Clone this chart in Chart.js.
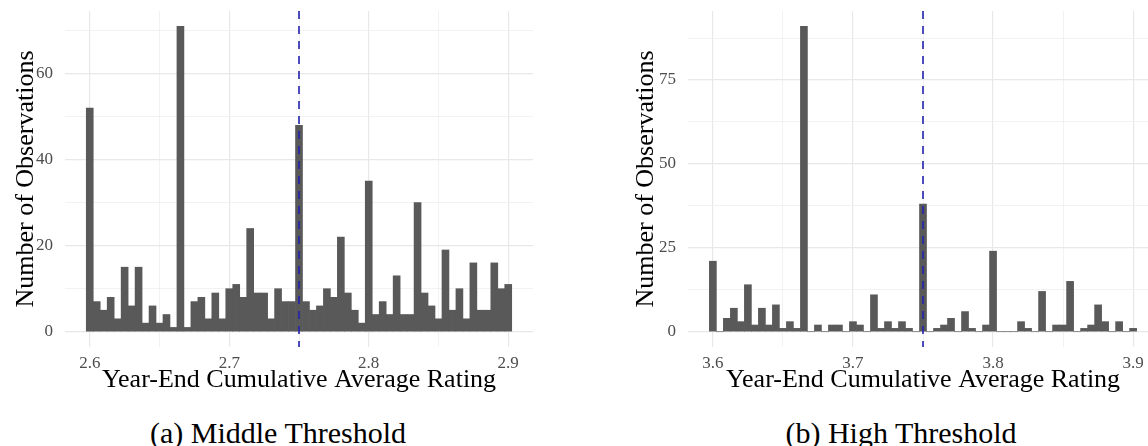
<!DOCTYPE html>
<html lang="en">
<head>
<meta charset="UTF-8">
<title>Year-End Cumulative Average Rating</title>
<script src="https://cdn.jsdelivr.net/npm/chart.js"></script>
<style>
  html, body { margin: 0; padding: 0; background: #fff; overflow: hidden; }
  body { width: 1148px; height: 446px; position: relative; font-family: "Liberation Serif", serif; }
  .panel { position: absolute; top: 0; }
  #wrapA { left: 0; width: 574px; height: 400px; }
  #wrapB { left: 620px; width: 528px; height: 400px; overflow: hidden; }
  .caption { position: absolute; top: 418px; font-size: 30px; line-height: 30px; color: #000; white-space: nowrap; transform: translateX(-50%); }
</style>
</head>
<body>
  <div class="panel" id="wrapA"><canvas id="chartA" width="574" height="396"></canvas></div>
  <div class="panel" id="wrapB"><canvas id="chartB" width="538" height="396"></canvas></div>
  <div class="caption" style="left: 278px;">(a) Middle Threshold</div>
  <div class="caption" style="left: 901px;">(b) High Threshold</div>

<script>
// (a) middle threshold: bin centres and counts
const binsA = [2.600, 2.605, 2.610, 2.615, 2.620, 2.625, 2.630, 2.635, 2.640, 2.645,
               2.650, 2.655, 2.660, 2.665, 2.670, 2.675, 2.680, 2.685, 2.690, 2.695,
               2.700, 2.705, 2.710, 2.715, 2.720, 2.725, 2.730, 2.735, 2.740, 2.745,
               2.750, 2.755, 2.760, 2.765, 2.770, 2.775, 2.780, 2.785, 2.790, 2.795,
               2.800, 2.805, 2.810, 2.815, 2.820, 2.825, 2.830, 2.835, 2.840, 2.845,
               2.850, 2.855, 2.860, 2.865, 2.870, 2.875, 2.880, 2.885, 2.890, 2.895, 2.900];
const countsA = [52, 7, 5, 8, 3, 15, 6, 15, 2, 6,
                 2, 4, 1, 71, 1, 7, 8, 3, 9, 3,
                 10, 11, 8, 24, 9, 9, 3, 10, 7, 7,
                 48, 7, 5, 6, 10, 8, 22, 9, 5, 2,
                 35, 4, 7, 4, 13, 4, 4, 30, 9, 6,
                 3, 19, 5, 10, 3, 16, 5, 5, 16, 10, 11];
const thresholdA = 2.75;
const xTicksA = [2.60, 2.65, 2.70, 2.75, 2.80, 2.85, 2.90];
const xLabelsA = [2.6, 2.7, 2.8, 2.9];
const yTicksA = [0, 10, 20, 30, 40, 50, 60, 70];
const yLabelsA = [0, 20, 40, 60];

// (b) high threshold
const binsB = [3.600, 3.605, 3.610, 3.615, 3.620, 3.625, 3.630, 3.635, 3.640, 3.645,
               3.650, 3.655, 3.660, 3.665, 3.670, 3.675, 3.680, 3.685, 3.690, 3.695,
               3.700, 3.705, 3.710, 3.715, 3.720, 3.725, 3.730, 3.735, 3.740, 3.745,
               3.750, 3.755, 3.760, 3.765, 3.770, 3.775, 3.780, 3.785, 3.790, 3.795,
               3.800, 3.805, 3.810, 3.815, 3.820, 3.825, 3.830, 3.835, 3.840, 3.845,
               3.850, 3.855, 3.860, 3.865, 3.870, 3.875, 3.880, 3.885, 3.890, 3.895, 3.900];
const countsB = [21, 0, 4, 7, 3, 14, 2, 7, 2, 8,
                 1, 3, 1, 91, 0, 2, 0, 2, 2, 0,
                 3, 2, 0, 11, 1, 3, 1, 3, 1, 0,
                 38, 0, 1, 2, 4, 0, 6, 1, 0, 2,
                 24, 0, 0, 0, 3, 1, 0, 12, 0, 2,
                 2, 15, 0, 1, 2, 8, 3, 0, 3, 0, 1];
const thresholdB = 3.75;
const xTicksB = [3.60, 3.65, 3.70, 3.75, 3.80, 3.85, 3.90];
const xLabelsB = [3.6, 3.7, 3.8, 3.9];
const yTicksB = [0, 12.5, 25, 37.5, 50, 62.5, 75, 87.5];
const yLabelsB = [0, 25, 50, 75];

const xTitle = 'Year-End Cumulative Average Rating';
const yTitle = 'Number of Observations';

const barColor = '#595959';
const gridMajor = '#e8e8e8';
const gridMinor = '#efefef';
const lineColor = '#2222ae';
const tickColor = '#4d4d4d';
const serif = 'Liberation Serif';

const isLabelled = (labels, v) => labels.some(l => Math.abs(l - v) < 1e-6);

function makePanel(id, bins, counts, threshold, xTicks, xLabels, yTicks, yLabels, xr, yr, yAxisWidth, padRight) {
  const ctx = document.getElementById(id).getContext('2d');
  const points = bins.map((b, i) => ({ x: b, y: counts[i] }));

  return new Chart(ctx, {
    type: 'bar',
    data: {
      datasets: [{
        type: 'line',
        data: [{ x: threshold, y: yr[1] }, { x: threshold, y: yr[0] }],
        borderColor: lineColor,
        borderWidth: 1.6,
        borderDash: [8, 7],
        pointRadius: 0,
        fill: false,
        order: 0
      }, {
        data: points,
        backgroundColor: barColor,
        borderWidth: 0,
        barPercentage: 1.0,
        categoryPercentage: 1.0,
        order: 1
      }]
    },
    options: {
      responsive: false,
      animation: false,
      layout: { padding: { top: 11, right: padRight, bottom: 0, left: 0 } },
      plugins: { legend: { display: false }, tooltip: { enabled: false } },
      scales: {
        x: {
          type: 'linear',
          min: xr[0], max: xr[1],
          offset: false,
          border: { display: false },
          afterBuildTicks: s => { s.ticks = xTicks.map(v => ({ value: v })); },
          grid: {
            offset: false,
            drawTicks: false,
            color: c => (isLabelled(xLabels, c.tick.value) ? gridMajor : gridMinor),
            lineWidth: c => (isLabelled(xLabels, c.tick.value) ? 1.2 : 0.8)
          },
          ticks: {
            autoSkip: false,
            maxRotation: 0,
            padding: 6,
            color: tickColor,
            font: { family: serif, size: 17 },
            callback: v => (isLabelled(xLabels, v) ? v.toFixed(1) : '')
          },
          title: {
            display: true,
            text: xTitle,
            color: '#000',
            padding: 0,
            font: { family: serif, size: 26 }
          },
          afterFit: s => { s.height = 49; s.paddingLeft = 0; s.paddingRight = 0; }
        },
        y: {
          min: yr[0], max: yr[1],
          border: { display: false },
          afterBuildTicks: s => { s.ticks = yTicks.map(v => ({ value: v })); },
          grid: {
            drawTicks: false,
            color: c => (isLabelled(yLabels, c.tick.value) ? gridMajor : gridMinor),
            lineWidth: c => (isLabelled(yLabels, c.tick.value) ? 1.2 : 0.8)
          },
          ticks: {
            autoSkip: false,
            padding: 12,
            color: tickColor,
            font: { family: serif, size: 17 },
            callback: v => (isLabelled(yLabels, v) ? String(v) : '')
          },
          title: {
            display: true,
            text: yTitle,
            color: '#000',
            padding: { top: 11, bottom: 0 },
            font: { family: serif, size: 26 }
          },
          afterFit: s => { s.width = yAxisWidth; s.paddingTop = 0; s.paddingBottom = 0; }
        }
      }
    }
  });
}

makePanel('chartA', binsA, countsA, thresholdA, xTicksA, xLabelsA, yTicksA, yLabelsA,
          [2.58225, 2.91775], [-3.55, 74.55], 65, 41);
makePanel('chartB', binsB, countsB, thresholdB, xTicksB, xLabelsB, yTicksB, yLabelsB,
          [3.58225, 3.91775], [-4.55, 95.55], 68, 0);
</script>
</body>
</html>
